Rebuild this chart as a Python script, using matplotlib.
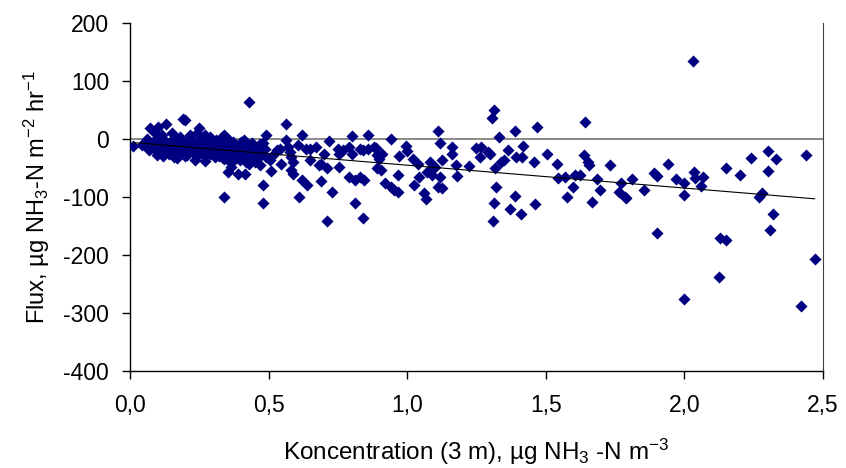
import numpy as np
import matplotlib.pyplot as plt

plt.rcParams['font.family'] = ['Liberation Sans', 'DejaVu Sans']
plt.rcParams['mathtext.default'] = 'regular'
plt.rcParams['axes.unicode_minus'] = False

# Koncentration (3 m) og flux
konc = [
    0.012, 0.042, 0.072, 0.10, 0.128, 0.198, 0.19, 0.25, 0.43,
    0.06, 0.09, 0.114, 0.15, 0.18, 0.216, 0.24, 0.27, 0.29, 0.33, 0.34, 0.354, 0.40, 0.41, 0.44,
    0.096, 0.126, 0.168, 0.204, 0.234, 0.27, 0.306, 0.33, 0.354, 0.366, 0.39, 0.396, 0.414, 0.43, 0.34,
    0.05, 0.06, 0.07, 0.07, 0.08, 0.09, 0.09, 0.10, 0.10, 0.11, 0.11, 0.12, 0.12, 0.13, 0.13,
    0.14, 0.14, 0.15, 0.15, 0.16, 0.16, 0.16, 0.17, 0.17, 0.18, 0.18, 0.19, 0.19, 0.20, 0.20,
    0.21, 0.21, 0.22, 0.22, 0.23, 0.23, 0.24, 0.24, 0.25, 0.25, 0.26, 0.26, 0.27, 0.27, 0.28,
    0.28, 0.29, 0.29, 0.30, 0.30, 0.31, 0.31, 0.32, 0.32, 0.33, 0.33, 0.34, 0.34, 0.35, 0.35,
    0.36, 0.36, 0.37, 0.37, 0.38, 0.38, 0.39, 0.40, 0.40, 0.41, 0.42, 0.42, 0.43, 0.44, 0.45,
    0.46, 0.47, 0.47,
    0.561, 0.621, 0.49, 0.717, 0.80, 0.86, 0.48, 0.51, 0.62, 0.64, 0.69, 0.73, 0.61, 0.48, 0.81,
    0.79, 0.81, 0.755, 0.71, 0.68, 0.65, 0.67, 0.636, 0.605, 0.564, 0.57, 0.576, 0.58, 0.587,
    0.54, 0.545, 0.58, 0.587, 0.48, 0.486, 0.44, 0.438, 0.45, 0.468, 0.49, 0.504, 0.75, 0.755,
    0.77, 0.79, 0.80, 0.83, 0.84, 0.857, 0.88, 0.89, 0.89, 0.83, 0.845, 0.65, 0.70, 0.69, 0.53,
    0.515, 0.71, 0.84,
    1.11, 0.94, 0.995, 1.12, 1.16, 1.163, 1.313, 1.307, 1.33, 0.887, 0.90, 0.91, 0.905, 0.965,
    0.92, 0.94, 0.953, 0.965, 1.025, 1.06, 1.067, 1.04, 1.043, 1.073, 1.085, 1.09, 1.10, 1.083,
    1.12, 1.11, 1.127, 1.127, 1.175, 1.18, 1.223, 1.247, 1.265, 1.263, 1.29, 1.30, 1.315, 1.32,
    1.313, 1.337, 1.31, 0.97, 1.00, 1.02,
    1.64, 1.47, 1.39, 1.364, 1.417, 1.35, 1.393, 1.415, 1.457, 1.505, 1.54, 1.544, 1.568, 1.597,
    1.607, 1.625, 1.637, 1.652, 1.655, 1.577, 1.685, 1.697, 1.667, 1.73, 1.77, 1.763, 1.787,
    1.39, 1.46, 1.37, 1.41,
    1.79, 1.81, 1.856, 1.89, 1.90, 1.94, 1.97, 2.00, 2.00, 2.036, 2.04, 2.066, 2.06, 2.15, 2.20,
    2.24, 2.30, 2.33, 2.30, 2.27, 2.28, 2.32, 2.44, 2.03,
    1.90, 2.13, 2.15, 2.125, 2.00, 2.31, 2.47, 2.42,
]
flux = [
    -12, -11, 18, 20, 26, 32, 34, 19, 64,
    0, 9, 6, 9, 3, 6, 9, 6, 3, 3, 6, 0, -5, -3, -8,
    -28, -23, -34, -28, -37, -39, -31, -31, -57, -49, -60, -37, -60, -43, -100,
    -8, -15, -5, -20, -10, -2, -18, -8, -25, -12, -3, -15, -30, -6, -20,
    -12, -26, -2, -17, -8, -22, -32, -14, 0, -10, -25, -5, -18, -12, -30,
    -2, -20, -8, -15, -25, -5, -12, -30, -18, -3, -10, -24, -15, -30, -6,
    -20, -12, -26, -8, -18, -3, -25, -14, -30, -8, -20, -15, -35, -10, -25,
    -18, -40, -5, -28, -15, -35, -22, -12, -30, -18, -8, -40, -25, -15, -35,
    -22, -10, -30,
    25, 7, 6, -4, 5, 6, -79, -56, -72, -79, -73, -92, -100, -110, -110,
    -66, -72, -49, -50, -46, -37, -14, -17, -11, -3, -14, -23, -31, -40,
    -17, -43, -54, -60, -8, -17, -14, -31, -40, -46, -31, -37, -17, -26,
    -20, -14, -26, -17, -20, -17, -14, -28, -51, -66, -72, -17, -26, -43, -20,
    -28, -142, -137,
    13, -1, -12, -7, -14, -26, 49, 35, 3, -16, -35, -27, -54, -62,
    -77, -83, -89, -92, -80, -94, -104, -43, -66, -57, -54, -63, -49, -40,
    -66, -83, -85, -37, -46, -64, -47, -16, -14, -31, -23, -27, -51, -84,
    -110, -40, -142, -30, -22, -35,
    29, 20, 13, -20, -12, -37, -31, -31, -40, -27, -44, -68, -66, -83,
    -63, -63, -28, -40, -45, -100, -70, -88, -109, -45, -76, -92, -100,
    -99, -112, -122, -130,
    -103, -69, -89, -59, -65, -43, -69, -97, -76, -57, -67, -66, -82, -51, -63,
    -33, -22, -35, -56, -101, -94, -130, -28, 134,
    -162, -172, -175, -239, -276, -158, -208, -289,
]

x_ticks = [0.0, 0.5, 1.0, 1.5, 2.0, 2.5]
x_labels = ['0,0', '0,5', '1,0', '1,5', '2,0', '2,5']
y_ticks = [200, 100, 0, -100, -200, -300, -400]

konc = np.array(konc)
flux = np.array(flux)

fig = plt.figure(figsize=(8.46, 4.68), dpi=100)
ax = fig.add_axes([0.1537, 0.2079, 0.8191, 0.7436])

ax.axhline(0, color='#808080', lw=1.3, zorder=1)
ax.scatter(konc, flux, marker='D', s=38, color='#000080', linewidths=0, zorder=3)

# lineær tendenslinje
k = np.polyfit(konc, flux, 1)
xs = np.array([konc.min(), konc.max()])
ax.plot(xs, np.polyval(k, xs), color='black', lw=0.8, zorder=4)

ax.set_xlim(0, 2.5)
ax.set_ylim(-400, 200)
ax.set_xticks(x_ticks)
ax.set_xticklabels(x_labels)
ax.set_yticks(y_ticks)
ax.set_yticklabels([str(v) for v in y_ticks])
ax.tick_params(axis='both', labelsize=16.5, direction='out', length=6, width=1)
ax.tick_params(axis='x', pad=11)
ax.tick_params(axis='y', pad=9)

ax.spines['top'].set_visible(False)
ax.spines['right'].set_color('#404040')
ax.spines['right'].set_linewidth(0.8)
ax.spines['left'].set_linewidth(1)
ax.spines['bottom'].set_linewidth(1)

ax.set_xlabel('Koncentration (3 m), µg NH$_3$ -N m$^{-3}$', fontsize=17.5, labelpad=14)
ax.set_ylabel('Flux, µg NH$_3$-N m$^{-2}$ hr$^{-1}$', fontsize=17, labelpad=8)

fig.savefig('out.png', dpi=100)
